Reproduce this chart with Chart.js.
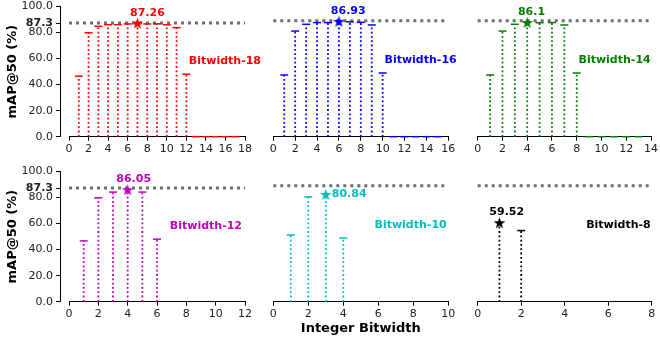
<!DOCTYPE html>
<html>
<head>
<meta charset="utf-8">
<script src="https://cdn.jsdelivr.net/npm/chart.js@4.4.1/dist/chart.umd.min.js"></script>
<style>
  body { margin: 0; background: #fff; }
  #wrap { position: relative; width: 660px; height: 341px; overflow: hidden; }
  canvas { position: absolute; }
</style>
</head>
<body>
<div id="wrap">
  <canvas id="c18"></canvas>
  <canvas id="c16"></canvas>
  <canvas id="c14"></canvas>
  <canvas id="c12"></canvas>
  <canvas id="c10"></canvas>
  <canvas id="c8"></canvas>
</div>
<script>
// mAP@50 per integer bitwidth (x = 1, 2, 3, ...)
const bw18 = [46.5, 79.8, 84.8, 86.0, 86.0, 86.6, 87.26, 86.6, 86.7, 86.0, 83.8, 48.0, 0, 0, 0, 0, 0];
const bw16 = [46.5, 79.6, 84.7, 86.0, 86.0, 86.93, 86.6, 86.2, 84.2, 48.0, 0, 0, 0, 0, 0];
const bw14 = [46.5, 79.6, 84.7, 86.1, 85.9, 86.0, 84.2, 48.0, 0, 0, 0, 0, 0];
const bw12 = [46.7, 79.8, 84.2, 86.05, 84.2, 48.0];
const bw10 = [50.3, 79.0, 80.84, 48.0];
const bw8 = [59.52, 53.6];

const baseline = 87.3;
const yTicks = [0, 20, 40, 60, 80, 87.3, 100];

// layout of the 2x3 grid (pixels)
const cols = [
    { left: 0, width: 270, padL: 4.7, padR: 25 },
    { left: 230, width: 240, padL: 43.3, padR: 21.7 },
    { left: 440, width: 220, padL: 37.7, padR: 8.3 }
];
const rows = [
    { top: -2, height: 162, xH: 23.3 },
    { top: 163, height: 178, xH: 39.3 }
];

const panels = [
    { id: 'c18', tag: 'Bitwidth-18', values: bw18, color: '#ff0000', xMax: 18, col: 0, row: 0, tagRight: 192, valDx: 10, valDy: -10, valAlign: 'center' },
    { id: 'c16', tag: 'Bitwidth-16', values: bw16, color: '#0000ff', xMax: 16, col: 1, row: 0, tagRight: 183.4, valDx: 9.3, valDy: -10, valAlign: 'center' },
    { id: 'c14', tag: 'Bitwidth-14', values: bw14, color: '#008000', xMax: 14, col: 2, row: 0, tagRight: 173, valDx: 4.3, valDy: -10, valAlign: 'center' },
    { id: 'c12', tag: 'Bitwidth-12', values: bw12, color: '#bf00bf', xMax: 12, col: 0, row: 1, tagRight: 173, valDx: 6, valDy: -11, valAlign: 'center' },
    { id: 'c10', tag: 'Bitwidth-10', values: bw10, color: '#00bfbf', xMax: 10, col: 1, row: 1, tagRight: 173.4, valDx: 6, valDy: 0, valAlign: 'left' },
    { id: 'c8', tag: 'Bitwidth-8', values: bw8, color: '#000000', xMax: 8, col: 2, row: 1, tagRight: 173, valDx: 7.3, valDy: -10.6, valAlign: 'center' }
];

function starImage(color) {
    const c = document.createElement('canvas');
    c.width = 13;
    c.height = 13;
    const g = c.getContext('2d');
    g.beginPath();
    for (let k = 0; k < 10; k++) {
        const r = k % 2 === 0 ? 6.2 : 2.5;
        const a = -Math.PI / 2 + k * Math.PI / 5;
        g.lineTo(6.5 + r * Math.cos(a), 7.1 + r * Math.sin(a));
    }
    g.closePath();
    g.fillStyle = color;
    g.fill();
    return c;
}

// value labels and "Bitwidth-N" tags
const panelText = {
    id: 'panelText',
    afterDatasetsDraw(chart) {
        const p = chart.options.plugins.panelText;
        const ctx = chart.ctx, xs = chart.scales.x, ys = chart.scales.y, area = chart.chartArea;
        ctx.save();
        ctx.font = 'bold 11px "DejaVu Sans"';
        ctx.fillStyle = p.color;
        ctx.textBaseline = 'middle';
        ctx.textAlign = 'right';
        ctx.fillText(p.tag, area.left + p.tagRight, ys.getPixelForValue(58));
        const v = p.values[p.peak];
        ctx.textAlign = p.valAlign;
        ctx.fillText(String(v), xs.getPixelForValue(p.peak + 1) + p.valDx, ys.getPixelForValue(v) + p.valDy);
        ctx.restore();
    }
};

panels.forEach(function (p) {
    const col = cols[p.col], row = rows[p.row];
    const cv = document.getElementById(p.id);
    cv.width = col.width;
    cv.height = row.height;
    cv.style.left = col.left + 'px';
    cv.style.top = row.top + 'px';

    let peak = 0;
    p.values.forEach((v, i) => { if (v > p.values[peak]) peak = i; });

    const stems = [], marks = [];
    p.values.forEach((v, i) => {
        stems.push({ x: i + 1, y: 0 }, { x: i + 1, y: v }, { x: i + 1, y: null });
        marks.push({ x: i + 1, y: v });
    });
    const star = starImage(p.color);
    const showY = p.col === 0;

    const scales = {
        x: {
            type: 'linear',
            min: 0,
            max: p.xMax,
            ticks: { stepSize: 2, color: '#222', font: { family: 'DejaVu Sans', size: 11 }, padding: 2, maxRotation: 0 },
            grid: { drawOnChartArea: false, color: '#000', tickLength: 4 },
            border: { color: '#000', width: 1 },
            title: {
                display: p.row === 1 && p.col === 1,
                text: 'Integer Bitwidth',
                color: '#000',
                font: { family: 'DejaVu Sans', size: 13, weight: 'bold' },
                padding: { top: 0, bottom: 5 }
            },
            afterFit: s => { s.height = row.xH; }
        },
        y: {
            type: 'linear',
            display: showY,
            min: 0,
            max: 100,
            weight: 1,
            afterBuildTicks: s => { s.ticks = yTicks.map(v => ({ value: v })); },
            ticks: {
                color: '#222',
                padding: 3,
                callback: v => v.toFixed(1),
                font: c => ({ family: 'DejaVu Sans', size: 11, lineHeight: 1, weight: c.tick && c.tick.value === baseline ? 'bold' : 'normal' })
            },
            grid: { drawOnChartArea: false, color: '#000', tickLength: 4 },
            border: { color: '#000', width: 1 },
            title: {
                display: true,
                text: 'mAP@50 (%)',
                color: '#000',
                font: { family: 'DejaVu Sans', size: 13, weight: 'bold' },
                padding: 0
            },
            afterFit: s => { if (showY) s.width = 55.3; }
        }
    };
    if (showY) {
        // gap between the y spine and the start of the x axis
        scales.yPad = {
            type: 'linear',
            position: 'left',
            weight: 0,
            ticks: { display: false },
            grid: { display: false },
            border: { display: false },
            afterFit: s => { s.width = 9; }
        };
    }

    new Chart(cv, {
        type: 'scatter',
        data: {
            datasets: [
                {
                    data: marks,
                    order: 0,
                    showLine: false,
                    clip: false,
                    pointStyle: c => c.dataIndex === peak ? star : 'line',
                    pointRadius: 4,
                    pointBorderWidth: 1.5,
                    pointBorderColor: p.color,
                    pointBackgroundColor: p.color
                },
                {
                    data: stems,
                    order: 1,
                    showLine: true,
                    spanGaps: false,
                    clip: false,
                    borderColor: p.color,
                    borderWidth: 1.8,
                    borderDash: [1.8, 2.5],
                    borderCapStyle: 'butt',
                    pointRadius: 0
                },
                {
                    data: [{ x: 0, y: baseline }, { x: p.xMax, y: baseline }],
                    order: 2,
                    showLine: true,
                    clip: false,
                    borderColor: '#6e6e6e',
                    borderWidth: 3,
                    borderDash: [3, 4],
                    borderCapStyle: 'butt',
                    pointRadius: 0
                }
            ]
        },
        options: {
            responsive: false,
            animation: false,
            events: [],
            layout: { padding: { left: col.padL, right: col.padR, top: 6, bottom: 0 } },
            scales: scales,
            plugins: {
                legend: { display: false },
                tooltip: { enabled: false },
                panelText: { tag: p.tag, color: p.color, values: p.values, peak: peak, tagRight: p.tagRight, valDx: p.valDx, valDy: p.valDy, valAlign: p.valAlign }
            }
        },
        plugins: [panelText]
    });
});
</script>
</body>
</html>
